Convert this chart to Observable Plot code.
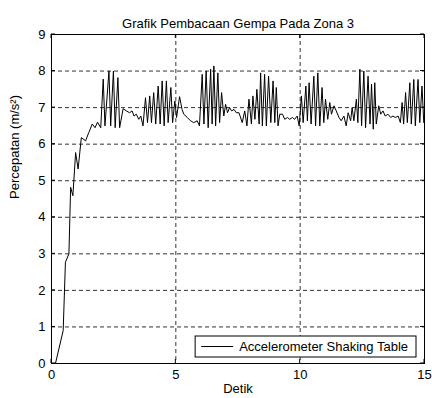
<!DOCTYPE html>
<html><head><meta charset="utf-8">
<script src="https://cdn.jsdelivr.net/npm/d3@7"></script>
<script src="https://cdn.jsdelivr.net/npm/@observablehq/plot@0.6"></script>
<style>
body{margin:0;background:#fff}
svg{font-family:"Liberation Sans",Arial,sans-serif}
</style>
</head><body><div id="chart"></div>
<script>
const titleText = "Grafik Pembacaan Gempa Pada Zona 3";
const xLabel = "Detik";
const yLabel = "Percepatan (m/s²)";
const seriesName = "Accelerometer Shaking Table";
const xTicks = [0, 5, 10, 15];
const yTicks = [0, 1, 2, 3, 4, 5, 6, 7, 8, 9];

const time = [0.16,0.47,0.56,0.70,0.77,0.86,0.97,1.07,1.20,1.37,1.50,1.64,1.75,1.85,1.98,2.08,2.15,2.31,2.38,2.49,2.56,2.67,2.74,2.88,3.01,3.14,3.24,3.32,3.41,3.51,3.59,3.68,3.78,3.86,3.95,4.02,4.11,4.19,4.29,4.37,4.45,4.53,4.62,4.69,4.80,4.87,4.96,5.03,5.15,5.25,5.32,5.46,5.59,5.72,5.86,5.95,6.06,6.13,6.22,6.30,6.40,6.46,6.53,6.60,6.69,6.76,6.84,6.93,7.00,7.08,7.16,7.24,7.34,7.43,7.54,7.67,7.77,7.86,7.94,8.04,8.10,8.18,8.26,8.35,8.41,8.48,8.57,8.64,8.73,8.82,8.91,8.98,9.04,9.11,9.18,9.29,9.38,9.49,9.58,9.69,9.78,9.88,9.96,10.05,10.12,10.23,10.29,10.36,10.44,10.55,10.62,10.71,10.79,10.88,10.95,11.02,11.11,11.19,11.26,11.36,11.45,11.56,11.65,11.76,11.85,11.93,12.03,12.09,12.16,12.26,12.32,12.40,12.47,12.56,12.63,12.73,12.81,12.87,12.94,13.00,13.06,13.16,13.24,13.33,13.42,13.53,13.64,13.73,13.83,13.94,14.03,14.10,14.16,14.24,14.31,14.41,14.47,14.57,14.63,14.74,14.81,14.90,14.97];
const accel = [0,0.9,2.77,3.0,4.82,4.59,5.77,5.32,6.18,6.09,6.32,6.55,6.45,6.6,6.45,7.78,6.5,8.0,6.5,8.0,6.45,7.82,6.45,6.97,6.91,6.86,6.91,6.77,6.82,6.68,6.77,6.5,7.27,6.59,7.32,6.59,7.41,6.55,7.59,6.55,7.73,6.5,7.73,6.59,7.55,6.59,7.18,6.73,7.3,6.95,6.82,6.73,6.64,6.59,6.64,6.5,7.91,6.55,8.0,6.45,8.05,6.55,8.14,6.5,7.95,6.59,7.41,6.77,7.09,6.86,7.0,6.91,6.95,6.86,6.86,6.59,6.91,6.5,7.23,6.55,7.32,6.68,7.5,6.55,7.95,6.5,7.91,6.5,7.86,6.59,7.73,6.59,7.55,6.5,6.82,6.82,6.68,6.73,6.68,6.73,6.68,6.77,6.5,7.32,6.59,7.59,6.64,7.68,6.55,7.86,6.5,7.95,6.5,7.55,6.59,7.23,6.68,7.14,6.82,7.05,6.91,6.73,6.64,6.77,6.5,6.86,6.64,7.0,6.64,7.23,6.59,8.05,6.5,8.0,6.45,7.86,6.55,7.64,6.41,7.68,6.55,7.05,6.82,6.91,6.77,6.82,6.73,6.77,6.73,6.77,6.59,7.14,6.55,7.41,6.59,7.68,6.55,7.77,6.5,7.77,6.59,7.59,6.59];

const data = time.map((t, i) => ({t, v: accel[i]}));
const gridStyle = {stroke: "#333", strokeOpacity: 1, strokeWidth: 1, strokeDasharray: "4,3"};
const FS = 13;

const plot = Plot.plot({
  width: 432, height: 398,
  marginTop: 34, marginBottom: 35, marginLeft: 51, marginRight: 8,
  style: {fontFamily: "'Liberation Sans', Arial, sans-serif", fontSize: FS + "px", background: "white", color: "black", overflow: "visible"},
  x: {domain: [0, 15], label: null},
  y: {domain: [0, 9], label: null},
  marks: [
    Plot.gridX(xTicks.slice(1, -1), gridStyle),
    Plot.gridY(yTicks.slice(1, -1), gridStyle),
    Plot.axisX(xTicks, {anchor: "bottom", tickSize: 0, tickPadding: 6, fontSize: FS}),
    Plot.axisY(yTicks, {anchor: "left", tickSize: 0, tickPadding: 6, fontSize: FS}),
    Plot.lineY(data, {x: "t", y: "v", stroke: "black", strokeWidth: 1}),
    Plot.frame({stroke: "black", strokeWidth: 1}),
    Plot.text([titleText], {frameAnchor: "top", dy: -16, fontSize: FS}),
    Plot.text([xLabel], {frameAnchor: "bottom", dy: 29, fontSize: FS}),
    Plot.text([yLabel], {frameAnchor: "left", rotate: -90, dx: -37, fontSize: FS})
  ]
});
document.getElementById("chart").appendChild(plot);

const svgSel = d3.select(plot);
const xs = plot.scale("x"), ys = plot.scale("y");
const pxLeft = xs.apply(0), pxRight = xs.apply(15), pxBottom = ys.apply(0), pxTop = ys.apply(9);

// inward tick marks on all four sides (MATLAB style)
const tk = svgSel.append("g").attr("stroke", "black").attr("stroke-width", 1);
xTicks.forEach(v => {
  const x = xs.apply(v);
  tk.append("line").attr("x1", x).attr("x2", x).attr("y1", pxBottom).attr("y2", pxBottom - 4);
  tk.append("line").attr("x1", x).attr("x2", x).attr("y1", pxTop).attr("y2", pxTop + 4);
});
yTicks.forEach(v => {
  const y = ys.apply(v);
  tk.append("line").attr("y1", y).attr("y2", y).attr("x1", pxLeft).attr("x2", pxLeft + 4);
  tk.append("line").attr("y1", y).attr("y2", y).attr("x1", pxRight).attr("x2", pxRight - 4);
});

// legend box (bottom-right inside the frame)
const lg = svgSel.append("g").attr("text-anchor", "start");
const txt = lg.append("text").attr("font-size", FS).attr("fill", "black")
  .attr("text-anchor", "start").text(seriesName);
const tw = txt.node().getComputedTextLength();
const boxW = tw + 52, boxH = 21;
const bx = pxRight - 8 - boxW, by = pxBottom - 6 - boxH;
lg.insert("rect", "text").attr("x", bx).attr("y", by).attr("width", boxW).attr("height", boxH)
  .attr("fill", "white").attr("stroke", "black").attr("stroke-width", 1);
lg.append("line").attr("x1", bx + 6).attr("x2", bx + 38).attr("y1", by + boxH / 2).attr("y2", by + boxH / 2)
  .attr("stroke", "black").attr("stroke-width", 1);
txt.attr("x", bx + 44).attr("y", by + boxH / 2).attr("dy", "0.35em");
</script>
</body></html>
